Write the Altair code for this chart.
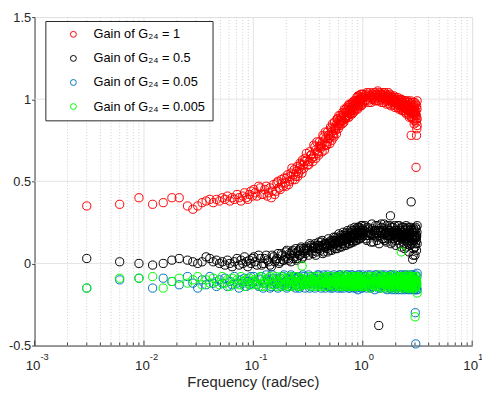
import altair as alt
import pandas as pd

FONT = "Liberation Sans"

# ---------------- data ----------------
freq_a = [0.003, 0.006, 0.009, 0.012, 0.015, 0.018, 0.021,
          0.025, 0.028, 0.031, 0.034, 0.037, 0.040, 0.043, 0.046, 0.049, 0.052, 0.055, 0.058, 0.061, 0.064, 0.067,
          0.071, 0.074, 0.077, 0.080, 0.083, 0.086, 0.089, 0.092, 0.095, 0.098]
freq_b = [0.101, 0.108, 0.116, 0.123, 0.131, 0.138, 0.146, 0.153, 0.161, 0.168, 0.176, 0.184, 0.191, 0.199,
          0.206, 0.214, 0.221, 0.229, 0.236, 0.244, 0.252, 0.259, 0.267, 0.274, 0.282, 0.289, 0.297]
freq_b2 = [0.104, 0.112, 0.119, 0.127, 0.134, 0.142, 0.149, 0.157, 0.164, 0.172, 0.180, 0.187, 0.195,
           0.202, 0.210, 0.217, 0.225, 0.232, 0.240, 0.248, 0.255, 0.263, 0.270, 0.278, 0.285, 0.293]
freq_c = [0.305, 0.320, 0.335, 0.350, 0.365, 0.380, 0.395, 0.410, 0.425, 0.440,
          0.455, 0.470, 0.485, 0.500, 0.515, 0.530, 0.545, 0.560, 0.575, 0.590,
          0.605, 0.620, 0.635, 0.650, 0.665, 0.680, 0.695, 0.710, 0.725, 0.740,
          0.755, 0.770, 0.785, 0.800, 0.815, 0.830, 0.845, 0.860, 0.875, 0.890,
          0.905, 0.920, 0.935, 0.950, 0.965, 0.980, 0.995]
freq_c2 = [0.312, 0.327, 0.342, 0.357, 0.372, 0.387, 0.402, 0.417, 0.432, 0.447,
           0.462, 0.477, 0.492, 0.507, 0.522, 0.537, 0.552, 0.567, 0.582, 0.597,
           0.612, 0.627, 0.642, 0.657, 0.672, 0.687, 0.702, 0.717, 0.732, 0.747,
           0.762, 0.777, 0.792, 0.807, 0.822, 0.837, 0.852, 0.867, 0.882, 0.897,
           0.912, 0.927, 0.942, 0.957, 0.972, 0.987]
freq_c3 = [0.309, 0.324, 0.339, 0.354, 0.369, 0.384, 0.399, 0.414, 0.429, 0.444,
           0.459, 0.474, 0.489, 0.504, 0.519, 0.534, 0.549, 0.564, 0.579, 0.594,
           0.609, 0.624, 0.639, 0.654, 0.669, 0.684, 0.699, 0.714, 0.729, 0.744,
           0.759, 0.774, 0.789, 0.804, 0.819, 0.834, 0.849, 0.864, 0.879, 0.894,
           0.909, 0.924, 0.939, 0.954, 0.969, 0.984]
freq_d = [1.01, 1.05, 1.09, 1.13, 1.17, 1.21, 1.25, 1.29, 1.33, 1.37,
          1.41, 1.45, 1.49, 1.53, 1.57, 1.61, 1.65, 1.69, 1.73, 1.77,
          1.81, 1.85, 1.89, 1.93, 1.97, 2.01, 2.05, 2.09, 2.13, 2.17,
          2.21, 2.25, 2.29, 2.33, 2.37, 2.41, 2.45, 2.49, 2.53, 2.57,
          2.61, 2.65, 2.69, 2.73, 2.77, 2.81, 2.85, 2.89, 2.93, 2.97,
          3.01, 3.05, 3.09, 3.13]
freq_d2 = [1.03, 1.07, 1.11, 1.15, 1.19, 1.23, 1.27, 1.31, 1.35, 1.39,
           1.43, 1.47, 1.51, 1.55, 1.59, 1.63, 1.67, 1.71, 1.75, 1.79,
           1.83, 1.87, 1.91, 1.95, 1.99, 2.03, 2.07, 2.11, 2.15, 2.19,
           2.23, 2.27, 2.31, 2.35, 2.39, 2.43, 2.47, 2.51, 2.55, 2.59,
           2.63, 2.67, 2.71, 2.75, 2.79, 2.83, 2.87, 2.91, 2.95, 2.99,
           3.03, 3.07, 3.11]
freq_d3 = [1.02, 1.06, 1.10, 1.14, 1.18, 1.22, 1.26, 1.30, 1.34, 1.38,
           1.42, 1.46, 1.50, 1.54, 1.58, 1.62, 1.66, 1.70, 1.74, 1.78,
           1.82, 1.86, 1.90, 1.94, 1.98, 2.02, 2.06, 2.10, 2.14, 2.18,
           2.22, 2.26, 2.30, 2.34, 2.38, 2.42, 2.46, 2.50, 2.54, 2.58,
           2.62, 2.66, 2.70, 2.74, 2.78, 2.82, 2.86, 2.90, 2.94, 2.98,
           3.02, 3.06, 3.10]

# Gain of G24 = 1 (red)
red_a = [0.35, 0.36, 0.40, 0.36, 0.37, 0.40, 0.40,
         0.35, 0.33, 0.35, 0.37, 0.38, 0.39, 0.37, 0.39, 0.38, 0.40, 0.39, 0.41, 0.38, 0.40, 0.39,
         0.42, 0.40, 0.38, 0.41, 0.43, 0.40, 0.39, 0.42, 0.44, 0.41]
red_b = [0.45, 0.41, 0.46, 0.42, 0.47, 0.43, 0.40, 0.48, 0.44, 0.50, 0.45, 0.49, 0.52, 0.47,
         0.54, 0.50, 0.55, 0.51, 0.57, 0.53, 0.59, 0.55, 0.61, 0.57, 0.63, 0.58, 0.64]
red_b2 = [0.43, 0.47, 0.42, 0.45, 0.41, 0.46, 0.44, 0.42, 0.49, 0.46, 0.51, 0.47, 0.49,
          0.52, 0.48, 0.53, 0.58, 0.54, 0.51, 0.56, 0.53, 0.58, 0.60, 0.55, 0.60, 0.62]
red_c = [0.67, 0.60, 0.66, 0.62, 0.71, 0.74, 0.66, 0.72, 0.68, 0.77,
         0.80, 0.72, 0.78, 0.73, 0.82, 0.85, 0.77, 0.83, 0.79, 0.88,
         0.90, 0.84, 0.88, 0.85, 0.91, 0.94, 0.88, 0.92, 0.89, 0.95,
         0.97, 0.91, 0.95, 0.91, 0.97, 0.99, 0.93, 0.98, 0.94, 0.99,
         1.02, 0.96, 1.00, 0.96, 1.01, 1.03, 0.97]
red_c2 = [0.60, 0.68, 0.64, 0.72, 0.64, 0.67, 0.74, 0.71, 0.78, 0.69,
          0.72, 0.80, 0.76, 0.83, 0.75, 0.78, 0.86, 0.82, 0.88, 0.82,
          0.85, 0.90, 0.87, 0.92, 0.86, 0.88, 0.94, 0.90, 0.96, 0.89,
          0.91, 0.97, 0.93, 0.98, 0.92, 0.94, 0.99, 0.96, 1.01, 0.94,
          0.96, 1.02, 0.98, 1.03, 0.96, 0.98]
red_c3 = [0.63, 0.62, 0.66, 0.65, 0.69, 0.68, 0.71, 0.70, 0.74, 0.72,
          0.76, 0.74, 0.78, 0.77, 0.80, 0.79, 0.82, 0.81, 0.85, 0.84,
          0.87, 0.86, 0.89, 0.87, 0.90, 0.89, 0.92, 0.90, 0.93, 0.92,
          0.94, 0.93, 0.95, 0.94, 0.96, 0.95, 0.97, 0.96, 0.98, 0.97,
          0.99, 0.98, 1.00, 0.99, 1.00, 1.01]
red_d = [1.03, 0.99, 1.04, 0.98, 1.02, 1.00, 1.04, 0.99, 1.03, 1.05,
         0.99, 1.03, 0.98, 1.04, 1.00, 1.03, 0.97, 1.02, 0.99, 1.03,
         0.96, 1.01, 0.98, 1.02, 0.95, 1.00, 0.97, 1.01, 0.94, 0.99,
         0.96, 1.00, 0.93, 0.98, 0.95, 0.99, 0.92, 0.97, 0.94, 0.99,
         0.91, 0.96, 0.93, 0.99, 0.89, 0.95, 0.92, 0.98, 0.88, 0.95,
         0.90, 0.97, 0.86, 0.94]
red_d2 = [1.01, 1.03, 0.99, 1.04, 0.98, 1.02, 1.00, 1.04, 0.99, 1.02,
          1.04, 1.00, 1.02, 0.98, 1.04, 0.99, 1.01, 1.04, 0.97, 1.00,
          1.02, 0.97, 1.00, 1.01, 0.96, 0.99, 1.00, 0.95, 0.98, 1.00,
          0.94, 0.97, 0.99, 0.93, 0.97, 0.96, 0.99, 0.91, 0.96, 0.98,
          0.93, 0.89, 0.97, 0.94, 0.98, 0.89, 0.94, 0.96, 0.87, 0.98,
          0.92, 0.88, 0.96]
red_d3 = [1.01, 1.02, 1.00, 1.02, 1.01, 1.03, 1.01, 1.02, 1.03, 1.01,
          1.02, 1.01, 1.03, 1.01, 1.02, 1.00, 1.01, 1.00, 1.02, 1.00,
          0.99, 1.00, 0.99, 0.99, 0.98, 0.99, 0.97, 0.98, 0.97, 0.97,
          0.96, 0.97, 0.95, 0.96, 0.95, 0.96, 0.94, 0.95, 0.94, 0.95,
          0.93, 0.94, 0.92, 0.94, 0.93, 0.92, 0.93, 0.91, 0.93, 0.92,
          0.91, 0.93, 0.90]
red_extra_f = [2.77, 3.10, 3.07, 3.14, 3.14, 3.14, 2.95, 3.12]
red_extra_y = [0.78, 0.78, 0.585, 0.99, 0.88, 0.84, 0.85, 0.82]

# Gain of G24 = 0.5 (black)
blk_a = [0.03, 0.01, 0.00, -0.01, 0.00, 0.02, 0.03,
         0.02, 0.01, 0.00, 0.01, 0.04, 0.03, 0.01, 0.02, 0.00, 0.01, -0.01, 0.02, 0.00, -0.02, 0.01,
         0.03, -0.01, 0.02, 0.00, 0.04, 0.01, -0.02, 0.02, 0.00, 0.03]
blk_b = [0.04, -0.01, 0.03, 0.00, 0.05, 0.01, -0.02, 0.04, 0.02, 0.06, 0.01, 0.05, 0.02, 0.07,
         0.03, 0.06, 0.01, 0.08, 0.04, 0.09, 0.03, 0.08, 0.05, 0.10, 0.04, 0.09, 0.06]
blk_b2 = [0.01, 0.05, -0.01, 0.03, 0.02, -0.01, 0.05, 0.01, 0.03, 0.00, 0.06, 0.02, 0.04,
          0.08, 0.02, 0.05, 0.07, 0.03, 0.06, 0.02, 0.07, 0.05, 0.09, 0.03, 0.07, 0.08]
blk_c = [0.10, 0.05, 0.11, 0.06, 0.12, 0.07, 0.13, 0.08, 0.14, 0.07,
         0.12, 0.09, 0.15, 0.08, 0.14, 0.10, 0.16, 0.09, 0.15, 0.11,
         0.18, 0.10, 0.16, 0.12, 0.19, 0.11, 0.17, 0.13, 0.20, 0.12,
         0.18, 0.14, 0.21, 0.13, 0.19, 0.15, 0.22, 0.14, 0.20, 0.16,
         0.22, 0.15, 0.21, 0.17, 0.23, 0.16, 0.21]
blk_c2 = [0.08, 0.12, 0.07, 0.10, 0.05, 0.11, 0.09, 0.13, 0.06, 0.12,
          0.10, 0.07, 0.13, 0.11, 0.08, 0.14, 0.12, 0.16, 0.09, 0.14,
          0.13, 0.17, 0.10, 0.15, 0.14, 0.18, 0.11, 0.16, 0.15, 0.19,
          0.12, 0.17, 0.16, 0.20, 0.13, 0.18, 0.17, 0.21, 0.14, 0.19,
          0.18, 0.22, 0.15, 0.20, 0.19, 0.23]
blk_c3 = [0.09, 0.08, 0.10, 0.09, 0.10, 0.09, 0.11, 0.10, 0.11, 0.10,
          0.12, 0.11, 0.12, 0.11, 0.13, 0.12, 0.13, 0.12, 0.14, 0.13,
          0.14, 0.13, 0.15, 0.14, 0.15, 0.14, 0.16, 0.15, 0.16, 0.15,
          0.17, 0.16, 0.17, 0.16, 0.18, 0.17, 0.18, 0.17, 0.19, 0.18,
          0.19, 0.18, 0.19, 0.18, 0.20, 0.19]
blk_d = [0.17, 0.23, 0.14, 0.21, 0.18, 0.24, 0.13, 0.20, 0.16, 0.23,
         0.12, 0.19, 0.22, 0.15, 0.24, 0.18, 0.13, 0.21, 0.17, 0.23,
         0.12, 0.19, 0.22, 0.15, 0.20, 0.11, 0.18, 0.23, 0.14, 0.21,
         0.17, 0.10, 0.22, 0.16, 0.20, 0.09, 0.18, 0.23, 0.13, 0.21,
         0.16, 0.07, 0.19, 0.22, 0.12, 0.20, 0.15, 0.05, 0.21, 0.17,
         0.10, 0.22, 0.14, 0.19]
blk_d2 = [0.20, 0.15, 0.22, 0.17, 0.13, 0.21, 0.18, 0.23, 0.14, 0.20,
          0.17, 0.24, 0.15, 0.21, 0.14, 0.19, 0.23, 0.15, 0.20, 0.16,
          0.22, 0.13, 0.18, 0.23, 0.14, 0.20, 0.16, 0.19, 0.23, 0.12,
          0.20, 0.15, 0.19, 0.22, 0.12, 0.17, 0.21, 0.10, 0.18, 0.22,
          0.14, 0.20, 0.11, 0.18, 0.21, 0.13, 0.19, 0.09, 0.20, 0.16,
          0.12, 0.21, 0.17]
blk_d3 = [0.18, 0.19, 0.17, 0.19, 0.18, 0.20, 0.17, 0.19, 0.18, 0.20,
          0.17, 0.19, 0.18, 0.20, 0.18, 0.19, 0.17, 0.19, 0.18, 0.20,
          0.17, 0.18, 0.19, 0.17, 0.18, 0.16, 0.18, 0.19, 0.17, 0.18,
          0.16, 0.17, 0.18, 0.16, 0.17, 0.15, 0.17, 0.18, 0.16, 0.17,
          0.15, 0.17, 0.16, 0.18, 0.15, 0.17, 0.16, 0.14, 0.17, 0.16,
          0.15, 0.17, 0.16]
blk_extra_f = [2.77, 1.79, 1.40, 2.86, 3.00, 3.14, 3.14, 3.10]
blk_extra_y = [0.375, 0.29, -0.378, 0.025, 0.05, 0.23, 0.12, 0.08]

# Gain of G24 = 0.05 (blue)
blu_a = [-0.15, -0.10, -0.09, -0.15, -0.09, -0.11, -0.13,
         -0.08, -0.12, -0.15, -0.10, -0.13, -0.08, -0.12, -0.14, -0.10, -0.12, -0.09, -0.14, -0.11, -0.13, -0.08,
         -0.12, -0.15, -0.10, -0.12, -0.09, -0.14, -0.11, -0.13, -0.08, -0.12]
blu_b = [-0.08, -0.13, -0.10, -0.15, -0.07, -0.11, -0.14, -0.09, -0.12, -0.15, -0.09, -0.13, -0.07, -0.11,
         -0.14, -0.10, -0.07, -0.13, -0.09, -0.15, -0.11, -0.08, -0.14, -0.10, -0.12, -0.08, -0.15]
blu_b2 = [-0.11, -0.14, -0.08, -0.12, -0.10, -0.15, -0.07, -0.13, -0.10, -0.12, -0.14, -0.08, -0.11,
          -0.15, -0.09, -0.12, -0.14, -0.08, -0.11, -0.13, -0.09, -0.15, -0.10, -0.13, -0.07, -0.12]
blu_c = [-0.10, -0.07, -0.14, -0.09, -0.15, -0.11, -0.07, -0.13, -0.10, -0.07,
         -0.15, -0.12, -0.08, -0.14, -0.10, -0.15, -0.07, -0.12, -0.09, -0.15,
         -0.11, -0.07, -0.13, -0.10, -0.15, -0.08, -0.12, -0.14, -0.07, -0.11,
         -0.15, -0.09, -0.13, -0.07, -0.12, -0.15, -0.08, -0.11, -0.14, -0.10,
         -0.16, -0.07, -0.12, -0.09, -0.15, -0.11, -0.07]
blu_c2 = [-0.12, -0.15, -0.08, -0.11, -0.13, -0.07, -0.10, -0.15, -0.12, -0.09,
          -0.13, -0.07, -0.11, -0.15, -0.09, -0.12, -0.14, -0.08, -0.11, -0.13,
          -0.07, -0.15, -0.10, -0.12, -0.08, -0.14, -0.10, -0.07, -0.13, -0.15,
          -0.09, -0.12, -0.07, -0.14, -0.10, -0.08, -0.13, -0.15, -0.09, -0.12,
          -0.07, -0.14, -0.10, -0.13, -0.08, -0.15]
blu_c3 = [-0.11, -0.10, -0.12, -0.11, -0.09, -0.12, -0.10, -0.11, -0.13, -0.10,
          -0.11, -0.12, -0.09, -0.11, -0.10, -0.12, -0.11, -0.13, -0.10, -0.11,
          -0.12, -0.10, -0.11, -0.09, -0.12, -0.11, -0.10, -0.13, -0.11, -0.10,
          -0.12, -0.11, -0.09, -0.12, -0.10, -0.11, -0.13, -0.10, -0.12, -0.11,
          -0.10, -0.12, -0.11, -0.09, -0.12, -0.10]
blu_d = [-0.13, -0.08, -0.15, -0.10, -0.07, -0.14, -0.11, -0.16, -0.07, -0.12,
         -0.09, -0.15, -0.07, -0.13, -0.10, -0.15, -0.08, -0.12, -0.14, -0.07,
         -0.11, -0.16, -0.09, -0.13, -0.07, -0.15, -0.10, -0.12, -0.16, -0.08,
         -0.11, -0.14, -0.07, -0.13, -0.10, -0.16, -0.09, -0.12, -0.15, -0.07,
         -0.11, -0.14, -0.08, -0.16, -0.10, -0.13, -0.07, -0.12, -0.16, -0.09,
         -0.14, -0.11, -0.16, -0.08]
blu_d2 = [-0.10, -0.14, -0.07, -0.12, -0.15, -0.09, -0.13, -0.07, -0.11, -0.15,
          -0.08, -0.12, -0.14, -0.10, -0.07, -0.13, -0.16, -0.09, -0.12, -0.15,
          -0.07, -0.11, -0.14, -0.09, -0.16, -0.12, -0.08, -0.14, -0.10, -0.07,
          -0.13, -0.16, -0.09, -0.11, -0.15, -0.07, -0.12, -0.14, -0.10, -0.16,
          -0.08, -0.13, -0.11, -0.15, -0.07, -0.12, -0.14, -0.09, -0.16, -0.11,
          -0.07, -0.13, -0.15]
blu_d3 = [-0.12, -0.10, -0.11, -0.13, -0.10, -0.12, -0.11, -0.09, -0.12, -0.11,
          -0.10, -0.13, -0.11, -0.12, -0.10, -0.11, -0.13, -0.10, -0.12, -0.11,
          -0.09, -0.12, -0.11, -0.10, -0.13, -0.11, -0.12, -0.10, -0.11, -0.13,
          -0.10, -0.12, -0.11, -0.09, -0.12, -0.11, -0.10, -0.13, -0.11, -0.12,
          -0.10, -0.11, -0.13, -0.10, -0.12, -0.11, -0.09, -0.12, -0.11, -0.10,
          -0.13, -0.11, -0.12]
blu_extra_f = [3.02, 3.05, 3.14, 3.14]
blu_extra_y = [-0.30, -0.49, -0.16, -0.06]

# Gain of G24 = 0.005 (green)
grn_a = [-0.15, -0.09, -0.09, -0.08, -0.15, -0.11, -0.09,
         -0.12, -0.10, -0.08, -0.13, -0.10, -0.12, -0.09, -0.11, -0.13, -0.08, -0.12, -0.10, -0.14, -0.09, -0.12,
         -0.10, -0.13, -0.08, -0.11, -0.14, -0.10, -0.12, -0.09, -0.13, -0.11]
grn_b = [-0.10, -0.13, -0.08, -0.12, -0.14, -0.09, -0.11, -0.13, -0.08, -0.12, -0.10, -0.14, -0.09, -0.13,
         -0.11, -0.08, -0.14, -0.10, -0.12, -0.08, -0.13, -0.11, -0.14, -0.09, -0.12, -0.10, -0.13]
grn_b2 = [-0.12, -0.09, -0.14, -0.10, -0.12, -0.08, -0.13, -0.10, -0.14, -0.11, -0.08, -0.13, -0.10,
          -0.12, -0.14, -0.09, -0.11, -0.13, -0.08, -0.12, -0.14, -0.09, -0.11, -0.13, -0.10, -0.12]
grn_c = [-0.12, -0.08, -0.14, -0.10, -0.08, -0.13, -0.11, -0.14, -0.09, -0.12,
         -0.08, -0.14, -0.10, -0.13, -0.08, -0.11, -0.14, -0.09, -0.12, -0.10,
         -0.14, -0.08, -0.13, -0.11, -0.07, -0.14, -0.10, -0.12, -0.08, -0.14,
         -0.11, -0.09, -0.13, -0.08, -0.14, -0.10, -0.12, -0.08, -0.14, -0.11,
         -0.09, -0.13, -0.14, -0.10, -0.08, -0.12, -0.14]
grn_c2 = [-0.10, -0.13, -0.09, -0.12, -0.14, -0.08, -0.11, -0.13, -0.10, -0.14,
          -0.09, -0.12, -0.08, -0.13, -0.11, -0.14, -0.09, -0.12, -0.08, -0.13,
          -0.11, -0.14, -0.09, -0.12, -0.10, -0.13, -0.08, -0.11, -0.14, -0.09,
          -0.12, -0.10, -0.14, -0.08, -0.12, -0.13, -0.09, -0.11, -0.14, -0.08,
          -0.12, -0.10, -0.13, -0.09, -0.11, -0.14]
grn_c3 = [-0.11, -0.12, -0.10, -0.11, -0.13, -0.10, -0.12, -0.11, -0.09, -0.12,
          -0.11, -0.10, -0.12, -0.11, -0.13, -0.10, -0.11, -0.12, -0.10, -0.11,
          -0.09, -0.12, -0.11, -0.10, -0.12, -0.13, -0.11, -0.10, -0.12, -0.11,
          -0.10, -0.12, -0.11, -0.13, -0.10, -0.11, -0.12, -0.10, -0.11, -0.09,
          -0.12, -0.11, -0.10, -0.12, -0.11, -0.13]
grn_d = [-0.10, -0.14, -0.08, -0.12, -0.15, -0.09, -0.13, -0.08, -0.11, -0.14,
         -0.07, -0.12, -0.10, -0.14, -0.08, -0.13, -0.11, -0.15, -0.08, -0.12,
         -0.09, -0.14, -0.10, -0.07, -0.13, -0.11, -0.15, -0.08, -0.12, -0.10,
         -0.14, -0.08, -0.13, -0.15, -0.09, -0.11, -0.14, -0.08, -0.12, -0.07,
         -0.14, -0.10, -0.13, -0.15, -0.09, -0.11, -0.14, -0.08, -0.12, -0.15,
         -0.10, -0.14, -0.08, -0.13]
grn_d2 = [-0.12, -0.09, -0.14, -0.10, -0.08, -0.13, -0.11, -0.14, -0.09, -0.12,
          -0.10, -0.15, -0.08, -0.12, -0.13, -0.09, -0.11, -0.14, -0.10, -0.08,
          -0.13, -0.11, -0.15, -0.09, -0.12, -0.10, -0.14, -0.08, -0.11, -0.13,
          -0.09, -0.12, -0.15, -0.10, -0.08, -0.13, -0.11, -0.14, -0.09, -0.12,
          -0.15, -0.10, -0.08, -0.13, -0.11, -0.14, -0.09, -0.12, -0.10, -0.15,
          -0.08, -0.13, -0.11]
grn_d3 = [-0.11, -0.12, -0.10, -0.13, -0.11, -0.10, -0.12, -0.11, -0.13, -0.10,
          -0.12, -0.11, -0.09, -0.12, -0.11, -0.10, -0.12, -0.13, -0.11, -0.10,
          -0.12, -0.11, -0.10, -0.13, -0.11, -0.12, -0.10, -0.11, -0.09, -0.12,
          -0.11, -0.13, -0.10, -0.12, -0.11, -0.10, -0.12, -0.11, -0.13, -0.10,
          -0.11, -0.12, -0.10, -0.11, -0.13, -0.12, -0.10, -0.11, -0.12, -0.10,
          -0.11, -0.13, -0.12]
grn_extra_f = [2.25, 0.279, 3.01, 3.14, 2.60]
grn_extra_y = [0.07, -0.016, -0.325, -0.18, -0.15]

series_labels = ["Gain of G\u2082\u2084 = 1", "Gain of G\u2082\u2084 = 0.5",
                 "Gain of G\u2082\u2084 = 0.05", "Gain of G\u2082\u2084 = 0.005"]
series_colors = ["#ff0000", "#000000", "#0072bd", "#00ff00"]

# axis / grid positions
x_ticks = [0.001, 0.01, 0.1, 1, 10]
x_tick_exp = ["-3", "-2", "-1", "0", "1"]
x_minor = [0.002, 0.003, 0.004, 0.005, 0.006, 0.007, 0.008, 0.009,
           0.02, 0.03, 0.04, 0.05, 0.06, 0.07, 0.08, 0.09,
           0.2, 0.3, 0.4, 0.5, 0.6, 0.7, 0.8, 0.9,
           2, 3, 4, 5, 6, 7, 8, 9]
x_major_grid = [0.01, 0.1, 1]
y_ticks = [-0.5, 0, 0.5, 1, 1.5]
y_grid = [0, 0.5, 1]
x_title = "Frequency (rad/sec)"

# ---------------- table ----------------
freq_sets = [freq_a, freq_b, freq_b2, freq_c, freq_c2, freq_c3, freq_d, freq_d2, freq_d3]
series_sets = [
    [red_a, red_b, red_b2, red_c, red_c2, red_c3, red_d, red_d2, red_d3],
    [blk_a, blk_b, blk_b2, blk_c, blk_c2, blk_c3, blk_d, blk_d2, blk_d3],
    [blu_a, blu_b, blu_b2, blu_c, blu_c2, blu_c3, blu_d, blu_d2, blu_d3],
    [grn_a, grn_b, grn_b2, grn_c, grn_c2, grn_c3, grn_d, grn_d2, grn_d3],
]
extras_f = [red_extra_f, blk_extra_f, blu_extra_f, grn_extra_f]
extras_y = [red_extra_y, blk_extra_y, blu_extra_y, grn_extra_y]

rows = []
for lab, sets, ef, ey in zip(series_labels, series_sets, extras_f, extras_y):
    for fs, ys in zip(freq_sets, sets):
        for f, y in zip(fs, ys):
            rows.append({"f": f, "y": y, "s": lab})
    for f, y in zip(ef, ey):
        rows.append({"f": f, "y": y, "s": lab})
df = pd.DataFrame(rows)

# ---------------- chart ----------------
W, H = 445, 334
AX = "#404040"
TX = "#262626"
xscale = alt.Scale(type="log", domain=[0.001, 10], nice=False)
yscale = alt.Scale(domain=[-0.5, 1.5], nice=False, zero=False)
x_axis = alt.Axis(title=None, labels=False, ticks=False, grid=False, domainColor=AX)
y_axis = alt.Axis(values=y_ticks, title=None, grid=False, tickSize=3, labelPadding=1,
                  labelFont=FONT, labelFontSize=13, labelColor=TX, domainColor=AX, tickColor=AX,
                  labelExpr="datum.value < 0 ? '-' + format(-datum.value, '.1~f') : format(datum.value, '.1~f')")

minor_df = pd.DataFrame({"m": x_minor})
minor_grid = alt.Chart(minor_df).mark_rule(color="#cfcfcf", strokeDash=[1, 2], strokeWidth=1).encode(
    x=alt.X("m:Q", scale=xscale, axis=x_axis))
vgrid = alt.Chart(pd.DataFrame({"m": x_major_grid})).mark_rule(color="#e2e2e2", strokeWidth=1).encode(
    x=alt.X("m:Q", scale=xscale, axis=x_axis))
hgrid = alt.Chart(pd.DataFrame({"g": y_grid})).mark_rule(color="#e2e2e2", strokeWidth=1).encode(
    y=alt.Y("g:Q", scale=yscale, axis=y_axis))

points = alt.Chart(df).mark_point(filled=False, size=70, strokeWidth=1, opacity=1).encode(
    x=alt.X("f:Q", scale=xscale, axis=x_axis),
    y=alt.Y("y:Q", scale=yscale, axis=y_axis),
    color=alt.Color("s:N", scale=alt.Scale(domain=series_labels, range=series_colors),
                    legend=alt.Legend(title=None, orient="none", legendX=11, legendY=4, direction="vertical",
                                      labelFont=FONT, labelFontSize=13, labelColor="#000000", labelLimit=400,
                                      symbolType="circle", symbolSize=36, symbolStrokeWidth=1,
                                      symbolOffset=15, labelOffset=14, rowPadding=10.5, padding=7,
                                      strokeColor=TX, fillColor="#ffffff", cornerRadius=0)),
)

minor_ticks = alt.Chart(minor_df).mark_rule(color=AX, strokeWidth=1).encode(
    x=alt.X("m:Q", scale=xscale, axis=x_axis), y=alt.value(H), y2=alt.value(H - 3))
tick_df = pd.DataFrame({"t": x_ticks, "e": x_tick_exp})
major_ticks = alt.Chart(tick_df).mark_rule(color=AX, strokeWidth=1).encode(
    x=alt.X("t:Q", scale=xscale, axis=x_axis), y=alt.value(H), y2=alt.value(H - 5))
lab10 = alt.Chart(tick_df).mark_text(align="right", baseline="alphabetic", font=FONT, fontSize=13.5,
                                     color=TX, dx=6).encode(
    x=alt.X("t:Q", scale=xscale, axis=x_axis), y=alt.value(H + 25), text=alt.value("10"))
labexp = alt.Chart(tick_df).mark_text(align="left", baseline="alphabetic", font=FONT, fontSize=9.5,
                                      color=TX, dx=6).encode(
    x=alt.X("t:Q", scale=xscale, axis=x_axis), y=alt.value(H + 15), text="e:N")
title_txt = alt.Chart(pd.DataFrame({"t": [x_title]})).mark_text(
    baseline="alphabetic", align="center", font=FONT, fontSize=15, color=TX).encode(
    x=alt.value(W / 2), y=alt.value(H + 42), text="t:N")

chart = alt.layer(minor_grid, vgrid, hgrid, points, minor_ticks, major_ticks, lab10, labexp, title_txt).properties(
    width=W, height=H,
    autosize=alt.AutoSizeParams(type="none"),
    padding={"left": 27, "top": 6, "right": 10, "bottom": 44},
).configure_view(stroke=None).configure(font=FONT)

chart.save("out.html", embed_options={"renderer": "svg", "actions": False})
